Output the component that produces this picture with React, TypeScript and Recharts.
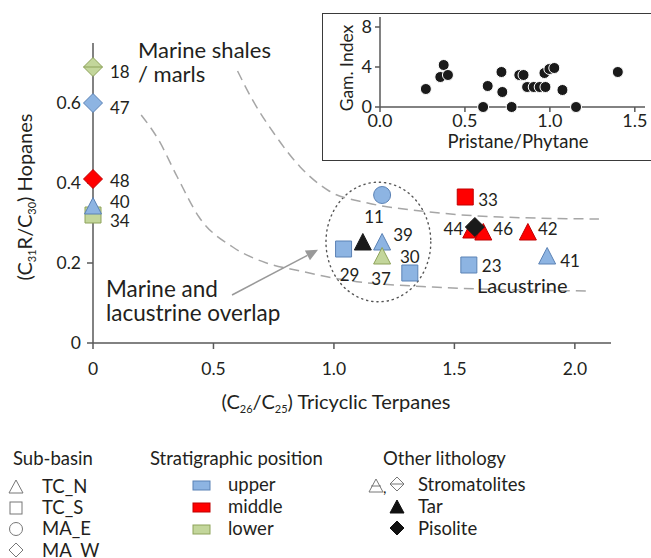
import { ComposedChart, ScatterChart, Scatter, Line, XAxis, YAxis, ReferenceArea, ReferenceLine } from "recharts";

const FONT = "Lato, 'Open Sans', sans-serif";
const INK = "#231f20";

// Main plot: one entry per sample (blank id = unlabelled tar / pisolite)
const sampleIds = ["18", "47", "48", "34", "40", "11", "29", "", "39", "37", "30", "33", "23", "44", "46", "", "42", "41"];
const tricyclic = [0, 0, 0, 0, 0, 1.2, 1.04, 1.12, 1.2, 1.2, 1.315, 1.545, 1.56, 1.57, 1.62, 1.585, 1.805, 1.885];
const hopanes = [0.69, 0.6, 0.41, 0.32, 0.34, 0.37, 0.235, 0.25, 0.25, 0.215, 0.175, 0.365, 0.195, 0.28, 0.275, 0.29, 0.275, 0.215];
const subBasin = ["MA_W", "MA_W", "MA_W", "TC_S", "TC_N", "MA_E", "TC_S", "TC_N", "TC_N", "TC_N", "TC_S", "TC_S", "TC_S", "TC_N", "TC_N", "MA_W", "TC_N", "TC_N"];
const stratPosition = ["lower", "upper", "middle", "lower", "upper", "upper", "upper", "", "upper", "lower", "upper", "middle", "upper", "middle", "middle", "", "middle", "upper"];
const lithology = ["stromatolite", "", "", "", "", "", "", "tar", "", "", "", "", "", "", "", "pisolite", "", ""];

// Dashed envelopes
const marineX = [0.6, 0.66, 0.75, 0.86, 0.98, 1.14, 1.36, 1.69, 2.1];
const marineY = [0.68, 0.61, 0.525, 0.44, 0.38, 0.35, 0.33, 0.315, 0.31];
const lacustrineX = [0.2, 0.27, 0.35, 0.44, 0.58, 0.72, 0.86, 1.02, 1.41, 2.05];
const lacustrineY = [0.57, 0.51, 0.415, 0.315, 0.24, 0.2, 0.18, 0.16, 0.14, 0.13];

const xTicks = [0, 0.5, 1, 1.5, 2];
const yTicks = [0, 0.2, 0.4, 0.6];

// Inset: pristane/phytane vs gammacerane index
const prPh = [0.27, 0.355, 0.375, 0.4, 0.607, 0.634, 0.715, 0.72, 0.775, 0.82, 0.845, 0.866, 0.905, 0.94, 0.968, 0.974, 0.997, 1.026, 1.074, 1.154, 1.4];
const gamIndex = [1.8, 3.0, 4.2, 3.2, 0, 2.1, 3.5, 1.5, 0, 3.2, 3.2, 2.0, 2.0, 2.0, 3.4, 2.0, 3.8, 3.9, 1.7, 0, 3.5];
const insetXTicks = [0, 0.5, 1, 1.5];
const insetYTicks = [0, 4, 8];

const samples = sampleIds.map((id, i) => ({
  id,
  x: tricyclic[i],
  y: hopanes[i],
  basin: subBasin[i],
  strat: stratPosition[i],
  litho: lithology[i],
}));
const marineCurve = marineX.map((x, i) => ({ x, y: marineY[i] }));
const lacustrineCurve = lacustrineX.map((x, i) => ({ x, y: lacustrineY[i] }));
const insetData = prPh.map((x, i) => ({ x, y: gamIndex[i] }));

const fills: Record<string, [string, string]> = {
  upper: ["#8db4e2", "#5b82b5"],
  middle: ["#ff0000", "#c00000"],
  lower: ["#c3d69b", "#8ea35b"],
  dark: ["#1a1a1a", "#1a1a1a"],
};

// label offset from marker centre: dx, dy, anchor
const labelPlace: Record<string, [number, number, string]> = {
  "18": [17, 4, "start"],
  "47": [17, 4, "start"],
  "48": [17, 1, "start"],
  "40": [17, -6, "start"],
  "34": [17, 5, "start"],
  "11": [-8, 21, "middle"],
  "39": [21, -9, "middle"],
  "30": [0, -17, "middle"],
  "29": [6, 25, "middle"],
  "37": [-1, 21, "middle"],
  "33": [13, 2, "start"],
  "44": [-8, -3, "end"],
  "46": [10, -5, "start"],
  "42": [10, -5, "start"],
  "23": [13, 0, "start"],
  "41": [13, 3, "start"],
};

function markerPath(basin: string, cx: number, cy: number) {
  if (basin === "TC_N") return `M${cx},${cy - 9.5}L${cx + 8.5},${cy + 7}L${cx - 8.5},${cy + 7}Z`;
  if (basin === "TC_S") return `M${cx - 8},${cy - 8}h16v16h-16Z`;
  if (basin === "MA_W") return `M${cx},${cy - 9.5}L${cx + 9.5},${cy}L${cx},${cy + 9.5}L${cx - 9.5},${cy}Z`;
  return "";
}

function SampleMarker(props: any) {
  const { cx, cy, payload } = props;
  const dark = payload.litho === "tar" || payload.litho === "pisolite";
  const [fill, stroke] = fills[dark ? "dark" : payload.strat];
  const place = labelPlace[payload.id];
  return (
    <g>
      {payload.basin === "MA_E" ? (
        <circle cx={cx} cy={cy} r={8.5} fill={fill} stroke={stroke} strokeWidth={1} />
      ) : (
        <path d={markerPath(payload.basin, cx, cy)} fill={fill} stroke={stroke} strokeWidth={1} />
      )}
      {payload.litho === "stromatolite" && (
        <line x1={cx - 9.5} x2={cx + 9.5} y1={cy} y2={cy} stroke={stroke} strokeWidth={1} />
      )}
      {place && (
        <text
          x={cx + place[0]}
          y={cy + place[1]}
          textAnchor={place[2] as any}
          dominantBaseline="central"
          fontSize={17}
          fontFamily={FONT}
          fill={INK}
        >
          {payload.id}
        </text>
      )}
    </g>
  );
}

function InsetDot(props: any) {
  const { cx, cy } = props;
  return <circle cx={cx} cy={cy} r={5.5} fill="#1a1a1a" stroke="#fff" strokeWidth={1} />;
}

const fmtMain = (v: number) => (v === 0 ? "0" : v.toFixed(1));
const tickStyle = { fill: INK, fontSize: 17.5, fontFamily: FONT };

function Overlap(props: any) {
  const { x, y, width, height } = props;
  return (
    <ellipse
      cx={x + width / 2}
      cy={y + height / 2}
      rx={width / 2}
      ry={height / 2}
      fill="none"
      stroke="#555"
      strokeWidth={1.4}
      strokeDasharray="1.2 4"
      strokeLinecap="round"
    />
  );
}

function Arrow(props: any) {
  const { x1, y1, x2, y2 } = props;
  const ang = Math.atan2(y2 - y1, x2 - x1);
  const len = 12;
  const half = 5.5;
  const bx = x2 - len * Math.cos(ang);
  const by = y2 - len * Math.sin(ang);
  const px = -Math.sin(ang) * half;
  const py = Math.cos(ang) * half;
  return (
    <g>
      <line x1={x1} y1={y1} x2={bx} y2={by} stroke="#999" strokeWidth={1.5} />
      <path d={`M${x2},${y2}L${bx + px},${by + py}L${bx - px},${by - py}Z`} fill="#999" />
    </g>
  );
}

function LegendIcon({ kind, x, y, fill = "none", stroke = "#777" }: any) {
  if (kind === "tri") return <path d={`M${x},${y - 7}L${x + 7},${y + 6}L${x - 7},${y + 6}Z`} fill={fill} stroke={stroke} />;
  if (kind === "sq") return <rect x={x - 6} y={y - 6} width={12} height={12} fill={fill} stroke={stroke} />;
  if (kind === "circ") return <circle cx={x} cy={y} r={6.5} fill={fill} stroke={stroke} />;
  return <path d={`M${x},${y - 7}L${x + 7},${y}L${x},${y + 7}L${x - 7},${y}Z`} fill={fill} stroke={stroke} />;
}

export default function App() {
  const txt = { fontFamily: FONT, fill: INK };
  const lg = 18.5;
  return (
    <div style={{ position: "absolute", left: 0, top: 0, width: 651, height: 558, overflow: "hidden", background: "#fff" }}>
      <div style={{ position: "absolute", left: 0, top: 0 }}>
        <ComposedChart width={651} height={420} margin={{ top: 43, right: 40, bottom: 37, left: 48 }}>
          <XAxis
            type="number"
            dataKey="x"
            domain={[0, 2.15]}
            ticks={xTicks}
            tickFormatter={fmtMain}
            height={40}
            tickSize={6}
            tickMargin={14}
            tick={tickStyle}
            stroke="#595959"
            strokeWidth={1.5}
          />
          <YAxis
            type="number"
            dataKey="y"
            domain={[0, 0.75]}
            ticks={yTicks}
            tickFormatter={fmtMain}
            width={45}
            tickSize={6}
            tickMargin={6}
            tick={tickStyle}
            stroke="#595959"
            strokeWidth={1.5}
          />
          <Line data={marineCurve} dataKey="y" type="monotone" dot={false} stroke="#a6a6a6" strokeWidth={1.5} strokeDasharray="10 6" isAnimationActive={false} />
          <Line data={lacustrineCurve} dataKey="y" type="monotone" dot={false} stroke="#a6a6a6" strokeWidth={1.5} strokeDasharray="10 6" isAnimationActive={false} />
          <ReferenceArea x1={0.967} x2={1.402} y1={0.103} y2={0.402} shape={Overlap} />
          <ReferenceLine segment={[{ x: 0.577, y: 0.12 }, { x: 0.934, y: 0.233 }]} shape={Arrow} />
          <Scatter data={samples} dataKey="y" shape={SampleMarker} isAnimationActive={false} />
        </ComposedChart>
      </div>

      {/* inset frame */}
      <div
        style={{
          position: "absolute",
          left: 322,
          top: 13,
          width: 345,
          height: 148,
          border: "1.5px solid #3a3a3a",
          boxSizing: "border-box",
          background: "#fff",
        }}
      />
      <div style={{ position: "absolute", left: 323, top: 0 }}>
        <ScatterChart width={328} height={160} margin={{ top: 17, right: 6, bottom: 23, left: 27 }}>
          <XAxis
            type="number"
            dataKey="x"
            domain={[0, 1.56]}
            ticks={insetXTicks}
            tickFormatter={(v: number) => v.toFixed(1)}
            height={30}
            tickSize={5}
            tickMargin={2}
            tick={{ fill: INK, fontSize: 18, fontFamily: FONT }}
            stroke="#595959"
            strokeWidth={1.5}
          />
          <YAxis
            type="number"
            dataKey="y"
            domain={[0, 9]}
            ticks={insetYTicks}
            width={30}
            tickSize={5}
            tickMargin={3}
            tick={{ fill: INK, fontSize: 18, fontFamily: FONT }}
            stroke="#595959"
            strokeWidth={1.5}
          />
          <Scatter data={insetData} shape={InsetDot} isAnimationActive={false} />
        </ScatterChart>
      </div>

      <svg width={651} height={558} style={{ position: "absolute", left: 0, top: 0, pointerEvents: "none" }}>
        {/* axis titles */}
        <text x={336} y={409} textAnchor="middle" fontSize={20} {...txt}>
          (C<tspan fontSize={11} dy={4}>26</tspan>
          <tspan dy={-4}>/C</tspan>
          <tspan fontSize={11} dy={4}>25</tspan>
          <tspan dy={-4}>) Tricyclic Terpanes</tspan>
        </text>
        <text x={32} y={197} textAnchor="middle" fontSize={20} transform="rotate(-90 32 197)" {...txt}>
          (C<tspan fontSize={11} dy={4}>31</tspan>
          <tspan dy={-4}>R/C</tspan>
          <tspan fontSize={11} dy={4}>30</tspan>
          <tspan dy={-4}>) Hopanes</tspan>
        </text>
        <text x={518} y={148} textAnchor="middle" fontSize={18.5} {...txt}>Pristane/Phytane</text>
        <text x={353} y={68} textAnchor="middle" fontSize={17.5} transform="rotate(-90 353 68)" {...txt}>Gam. Index</text>

        {/* annotations */}
        <text x={138} y={58} fontSize={22} {...txt}>Marine shales</text>
        <text x={138} y={82} fontSize={22} {...txt}>/ marls</text>
        <text x={106} y={297} fontSize={22.5} {...txt}>Marine and</text>
        <text x={106} y={321} fontSize={22.5} {...txt}>lacustrine overlap</text>
        <text x={477} y={293} fontSize={20} {...txt}>Lacustrine</text>

        {/* legend: sub-basin */}
        <text x={13} y={465} fontSize={lg} {...txt}>Sub-basin</text>
        <LegendIcon kind="tri" x={16} y={487} />
        <text x={42} y={493} fontSize={lg} {...txt}>TC_N</text>
        <LegendIcon kind="sq" x={16} y={508} />
        <text x={42} y={514} fontSize={lg} {...txt}>TC_S</text>
        <LegendIcon kind="circ" x={16} y={529} />
        <text x={42} y={535} fontSize={lg} {...txt}>MA_E</text>
        <LegendIcon kind="dia" x={16} y={550} />
        <text x={42} y={557} fontSize={lg} {...txt}>MA_W</text>

        {/* legend: stratigraphic position */}
        <text x={150} y={465} fontSize={lg} {...txt}>Stratigraphic position</text>
        <rect x={193} y={481} width={17} height={9} fill={fills.upper[0]} stroke={fills.upper[1]} />
        <text x={228} y={491} fontSize={lg} {...txt}>upper</text>
        <rect x={193} y={503} width={17} height={9} fill={fills.middle[0]} stroke={fills.middle[1]} />
        <text x={228} y={513} fontSize={lg} {...txt}>middle</text>
        <rect x={193} y={525} width={17} height={9} fill={fills.lower[0]} stroke={fills.lower[1]} />
        <text x={228} y={535} fontSize={lg} {...txt}>lower</text>

        {/* legend: other lithology */}
        <text x={383} y={465} fontSize={lg} {...txt}>Other lithology</text>
        <LegendIcon kind="tri" x={376} y={486} />
        <line x1={371} x2={381} y1={486} y2={486} stroke="#777" />
        <text x={383} y={493} fontSize={15} {...txt}>,</text>
        <LegendIcon kind="dia" x={397} y={484} />
        <line x1={390} x2={404} y1={484} y2={484} stroke="#777" />
        <text x={418} y={491} fontSize={lg} {...txt}>Stromatolites</text>
        <LegendIcon kind="tri" x={397} y={507} fill="#111" stroke="#111" />
        <text x={418} y={513} fontSize={lg} {...txt}>Tar</text>
        <LegendIcon kind="dia" x={397} y={528} fill="#111" stroke="#111" />
        <text x={418} y={535} fontSize={lg} {...txt}>Pisolite</text>
      </svg>
    </div>
  );
}
